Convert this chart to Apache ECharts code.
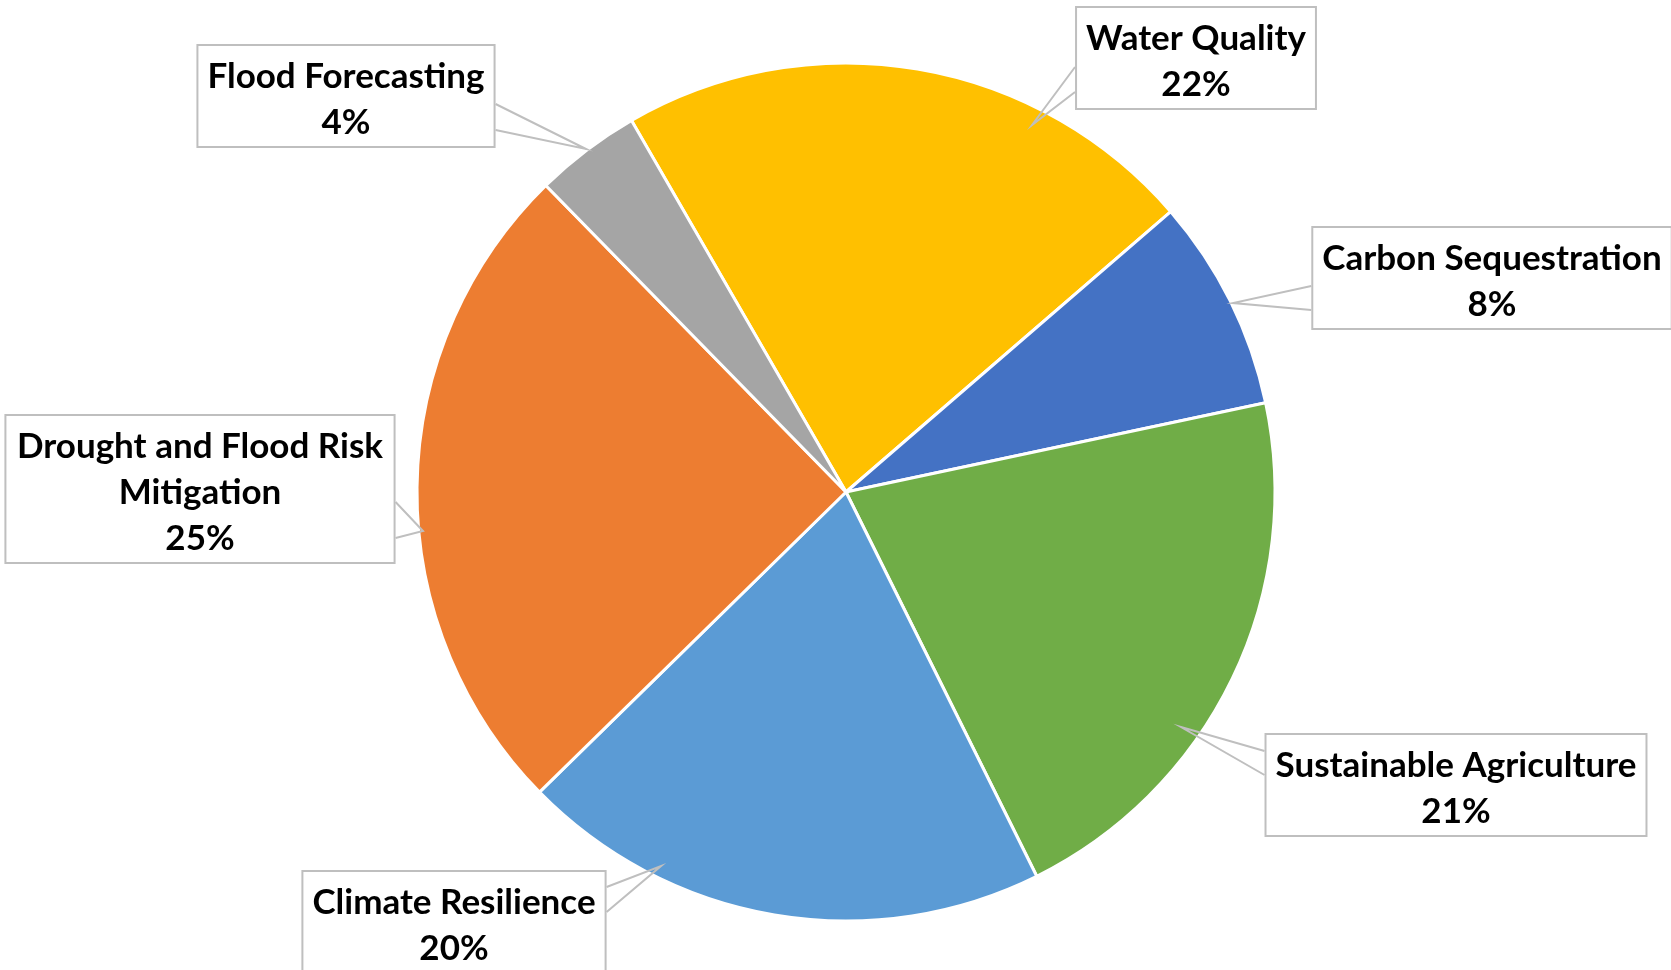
<!DOCTYPE html>
<html>
<head>
<meta charset="utf-8">
<script src="https://cdn.jsdelivr.net/npm/echarts@6/dist/echarts.min.js"></script>
<style>
html,body{margin:0;padding:0;background:#fff;}
#chart{width:1671px;height:970px;}
</style>
</head>
<body>
<div id="chart"></div>
<script>
const categories = ['Water Quality','Carbon Sequestration','Sustainable Agriculture','Climate Resilience','Drought and Flood Risk Mitigation','Flood Forecasting'];
const values = [22, 8, 21, 20, 25, 4];
const colors = ['#FFC000','#4472C4','#70AD47','#5B9BD5','#ED7D31','#A5A5A5'];

// ---- layout / style only (callout boxes) ----
const labelTop  = [[1196,8],[1492,228],[1456,735],[454,872],[200,416],[346,46]];       // box top-centre
const calloutSide = [-1,-1,-1,1,1,1];                                                    // -1 left edge, 1 right edge
const calloutBase = [[59,84],[58,82],[16,40],[15,40],[86,122],[58,84]];                 // y offsets (from box top) of wedge base
const calloutTip  = [[1032,125],[1233,303],[1181,727],[661,866],[423,531],[586,149]];

function wrap(s, max){
  const words = s.split(' '); const lines = []; let cur = '';
  words.forEach(w => {
    if (cur && (cur + ' ' + w).length > max) { lines.push(cur); cur = w; }
    else cur = cur ? cur + ' ' + w : w;
  });
  if (cur) lines.push(cur);
  return lines.join('\n');
}

const pieData = categories.map((c,i)=>({name:c, value:values[i]}));
const common = {
  type:'pie', center:[846,492], radius:429, startAngle:120, clockwise:true,
  data: pieData, emphasis:{disabled:true}, silent:true
};

const chart = echarts.init(document.getElementById('chart'), null, {renderer:'canvas'});
chart.setOption({
  animation:false,
  color: colors,
  series:[
    Object.assign({}, common, {
      z:2,
      itemStyle:{borderColor:'#fff', borderWidth:3},
      label:{show:false}, labelLine:{show:false}
    }),
    Object.assign({}, common, {
      z:5,
      itemStyle:{color:'rgba(0,0,0,0)', borderWidth:0},
      label:{
        show:true,
        formatter: p => wrap(p.name, 23) + '\n' + Math.round(p.percent) + '%',
        fontFamily:'Lato',
        fontWeight:'bold',
        fontSize:35,
        lineHeight:46,
        color:'#000',
        align:'center',
        verticalAlign:'top',
        backgroundColor:'#fff',
        borderColor:'#BFBFBF',
        borderWidth:2,
        padding:[8,9,0,9]
      },
      labelLine:{show:true, length:20, length2:0, smooth:false, lineStyle:{color:'#BFBFBF', width:2}},
      labelLayout: function(params){
        const i = params.dataIndex;
        const p = labelTop[i];
        const w = params.labelRect.width;
        const ex = p[0] + calloutSide[i] * w / 2;
        const b = calloutBase[i];
        return {
          x:p[0], y:p[1], align:'center', verticalAlign:'top',
          labelLinePoints:[[ex, p[1]+b[0]], calloutTip[i], [ex, p[1]+b[1]]]
        };
      }
    })
  ]
});
</script>
</body>
</html>
